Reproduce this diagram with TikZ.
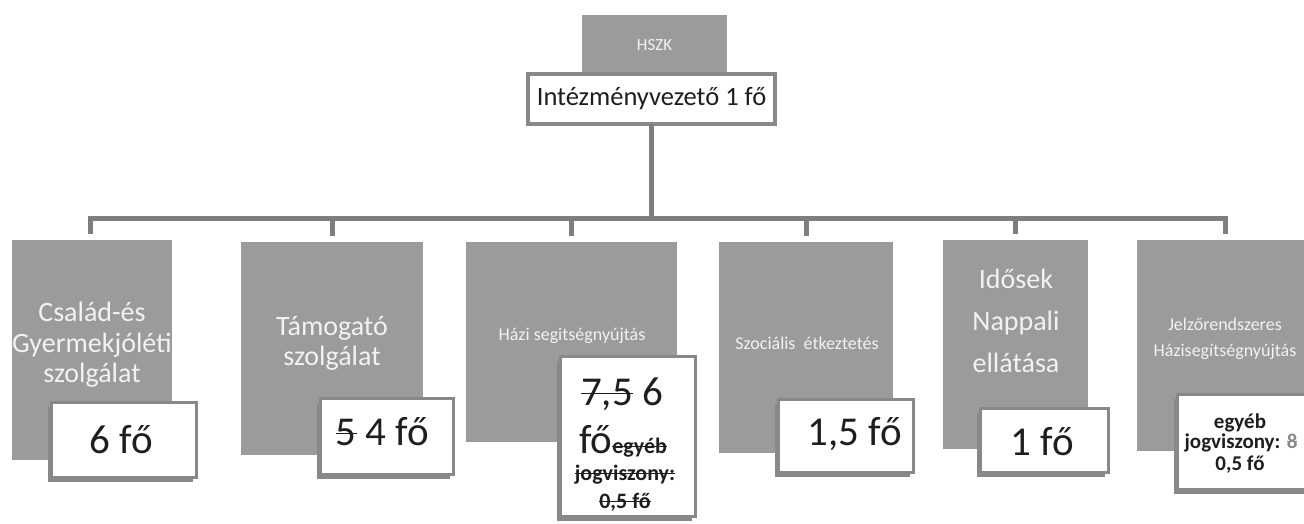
\documentclass[tikz,border=0pt]{standalone}
\usepackage{fontspec}
\setmainfont{Carlito}
\usetikzlibrary{shadows,calc}
\definecolor{boxgray}{HTML}{9B9B9B}
\definecolor{framegray}{HTML}{888888}
\definecolor{linegray}{HTML}{7E7E7E}
\definecolor{lighttext}{HTML}{F2F2F2}
\definecolor{darktext}{HTML}{1E1E1E}
\definecolor{struckgray}{HTML}{8A8A8A}
\newcommand{\myfs}[2]{\fontsize{#1}{#2}\selectfont}
\newsavebox{\strikebox}
\newcommand{\strike}[2][1.6pt]{\sbox{\strikebox}{#2}\rlap{\usebox{\strikebox}}\rule[0.55ex]{\wd\strikebox}{#1}}
\begin{document}
\begin{tikzpicture}[x=1pt,y=-1pt,
  gbox/.style={fill=boxgray, draw=none, inner sep=0pt, outer sep=0pt},
  gtext/.style={text=lighttext, align=center, inner sep=0pt},
  wbox/.style={fill=white, draw=framegray, line width=3pt, inner sep=0pt, outer sep=0pt,
     drop shadow={shadow xshift=-4pt, shadow yshift=-4pt, opacity=1, fill=framegray}},
  ibox/.style={fill=white, draw=framegray, line width=4.5pt, inner sep=0pt, outer sep=0pt},
  wtext/.style={text=darktext, inner sep=0pt, anchor=base},
  bus/.style={draw=linegray, line width=5pt, line join=miter},
]
\useasboundingbox (0,0) rectangle (1304,524);
\clip (0,0) rectangle (1304,524);
\fill[white] (0,0) rectangle (1304,524);

% top
\node[gbox, minimum width=145, minimum height=60, text=lighttext, font={\myfs{17}{20}}] (hszk) at (654.5,45) {HSZK};
\node[ibox, minimum width=247, minimum height=50, text=darktext, font={\myfs{26.5}{30}}] (intez) at (651.5,99) {Intézményvezető 1 fő};

% grey boxes
\node[gbox, minimum width=160, minimum height=220] (g1) at (92,350) {};
\node[gbox, minimum width=182, minimum height=213] (g2) at (332,348.5) {};
\node[gbox, minimum width=211, minimum height=200] (g3) at (571.5,342) {};
\node[gbox, minimum width=174, minimum height=211] (g4) at (806,347.5) {};
\node[gbox, minimum width=145, minimum height=209] (g5) at (1015.5,344.5) {};
\node[gbox, minimum width=176, minimum height=211] (g6) at (1225,345.5) {};

\node[gtext, font={\myfs{28}{30.5}}] (g1t) at (92,345) {Család-és\\Gyermekjóléti\\szolgálat};
\node[gtext, font={\myfs{28}{30}}] (g2t) at (332,343) {Támogató\\szolgálat};
\node[gtext, font={\myfs{18}{22}}] (g3t) at (572,336) {Házi segitségnyújtás};
\node[gtext, font={\myfs{18}{22}}] (g4t) at (807,343) {Szociális\ \ étkeztetés};
\node[gtext, font={\myfs{28}{42}}] (g5t) at (1016,320.5) {Idősek\\Nappali\\ellátása};
\node[gtext, font={\myfs{18}{26}}] (g6t) at (1225,339) {Jelzőrendszeres\\Házisegítségnyújtás};

% connectors
\coordinate (bj) at (654,218);
\coordinate (d1) at ($(g1.north)+(-2,-6)$);
\coordinate (d2) at ($(g2.north)+(0,-6)$);
\coordinate (d3) at ($(g3.north)+(0,-6)$);
\coordinate (d4) at ($(g4.north)+(0,-6)$);
\coordinate (d5) at ($(g5.north)+(0,-6)$);
\coordinate (d6) at ($(g6.north)+(0,-6)$);
\draw[bus] (intez.south) -- (intez.south |- bj);
\draw[bus] (d1) -- (d1 |- bj) -- (d6 |- bj) -- (d6);
\foreach \i in {2,...,5} \draw[bus] (d\i |- bj) -- (d\i);

% white boxes
\node[wbox, minimum width=145, minimum height=75] (w1) at (124,440) {};
\node[wtext, font={\myfs{41}{48}}] (t1) at (121,453) {6 fő};

\node[wbox, minimum width=133, minimum height=76] (w2) at (387,436.5) {};
\node[wtext, font={\myfs{41}{48}}] (t2) at (382.5,445) {\strike{5} 4 fő};

\node[wbox, minimum width=135, minimum height=160] (w3) at (628,436.5) {};
\node[wtext, font={\myfs{41}{48}}] (t3a) at (622,405) {\strike{7,5} 6};
\node[wtext, font={\myfs{41}{48}}] (t3b) at (623,453) {fő{\myfs{22}{26}\bfseries\strike[1.3pt]{egyéb}}};
\node[wtext, font={\myfs{22}{26}\bfseries}] (t3c) at (625,480) {\strike[1.3pt]{jogviszony:}};
\node[wtext, font={\myfs{22}{26}\bfseries}] (t3d) at (625,508) {\strike[1.3pt]{0,5 fő}};

\node[wbox, minimum width=135, minimum height=73] (w4) at (846,436) {};
\node[wtext, font={\myfs{41}{48}}] (t4) at (855,445) {1,5 fő};

\node[wbox, minimum width=128, minimum height=64] (w5) at (1044.5,440.5) {};
\node[wtext, font={\myfs{41}{48}}] (t5) at (1042.5,455) {1 fő};

\node[wbox, minimum width=131, minimum height=95] (w6) at (1243,442) {};
\node[wtext, font={\myfs{21}{21}\bfseries}] (t6a) at (1240,428) {egyéb};
\node[wtext, font={\myfs{21}{21}\bfseries}] (t6b) at (1241,448) {jogviszony: \textcolor{struckgray}{\strike[1pt]{8}}};
\node[wtext, font={\myfs{21}{21}\bfseries}] (t6c) at (1240,470.7) {0,5 fő};
\end{tikzpicture}
\end{document}
